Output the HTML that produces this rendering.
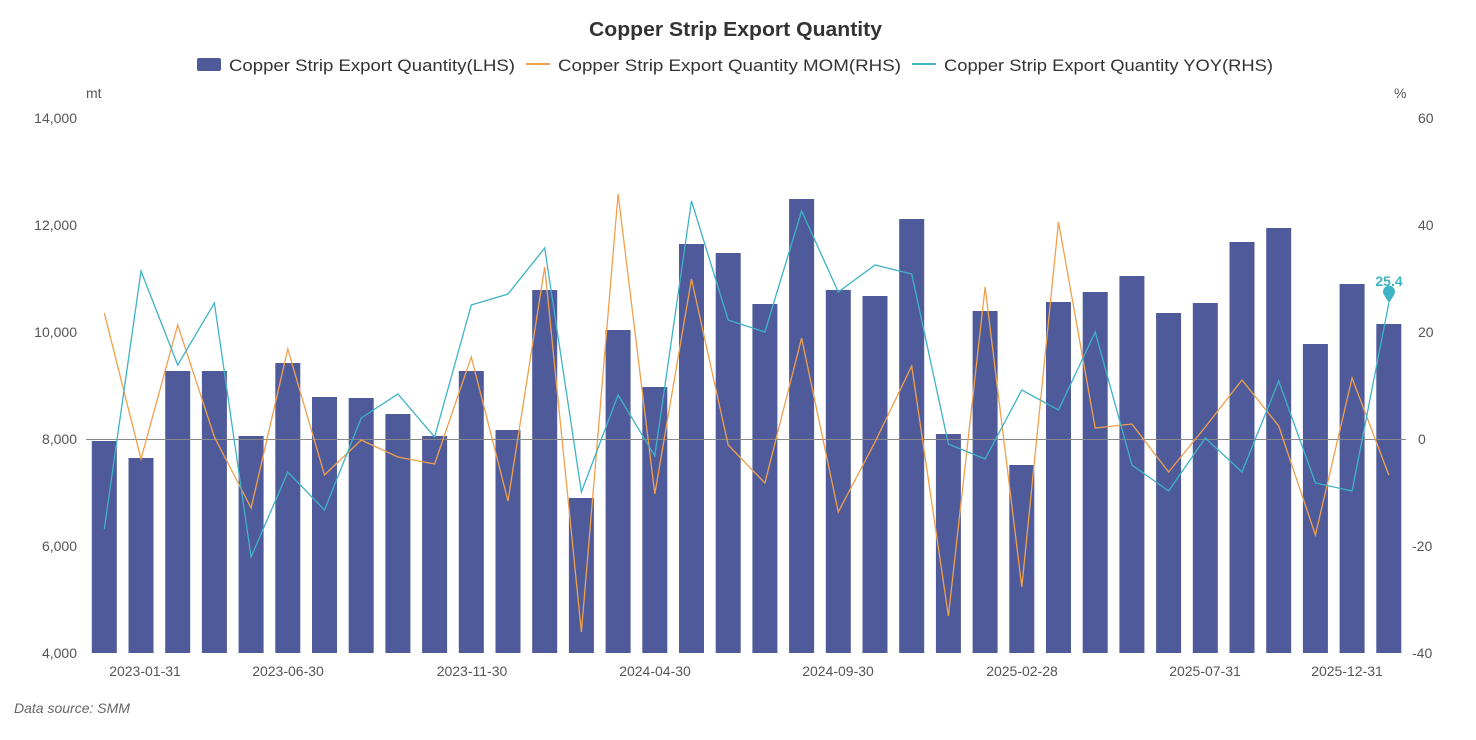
<!DOCTYPE html>
<html><head><meta charset="utf-8"><style>
html,body{margin:0;padding:0;background:#fff;}
svg{display:block;font-family:"Liberation Sans","Noto Sans CJK SC",sans-serif;}
</style></head><body>
<svg width="1476" height="740" viewBox="0 0 1476 740" xmlns="http://www.w3.org/2000/svg">
<rect width="1476" height="740" fill="#fff"/>
<text x="589" y="36" textLength="293" lengthAdjust="spacingAndGlyphs" font-size="20" font-weight="bold" fill="#333">Copper Strip Export Quantity</text>
<rect x="197" y="58" width="24" height="13" rx="2" fill="#4e5a9a"/>
<text x="229" y="71" textLength="286" lengthAdjust="spacingAndGlyphs" font-size="17" fill="#333">Copper Strip Export Quantity(LHS)</text>
<line x1="526" y1="64" x2="550" y2="64" stroke="#f0a04b" stroke-width="2"/>
<text x="558" y="71" textLength="343" lengthAdjust="spacingAndGlyphs" font-size="17" fill="#333">Copper Strip Export Quantity MOM(RHS)</text>
<line x1="912" y1="64" x2="936" y2="64" stroke="#3eb3c6" stroke-width="2"/>
<text x="944" y="71" textLength="329" lengthAdjust="spacingAndGlyphs" font-size="17" fill="#333">Copper Strip Export Quantity YOY(RHS)</text>
<g font-size="14" fill="#555">
<text x="86" y="98">mt</text>
<text x="1394" y="98">%</text>
<g text-anchor="end">
<text x="77" y="123">14,000</text><text x="77" y="230">12,000</text><text x="77" y="337">10,000</text>
<text x="77" y="444">8,000</text><text x="77" y="551">6,000</text><text x="77" y="658">4,000</text>
</g>
<g text-anchor="start">
<text x="1418" y="123">60</text><text x="1418" y="230">40</text><text x="1418" y="337">20</text>
<text x="1418" y="444">0</text><text x="1412" y="551">-20</text><text x="1412" y="658">-40</text>
</g>
<g text-anchor="middle">
<text x="145" y="676">2023-01-31</text><text x="288" y="676">2023-06-30</text><text x="472" y="676">2023-11-30</text>
<text x="655" y="676">2024-04-30</text><text x="838" y="676">2024-09-30</text><text x="1022" y="676">2025-02-28</text>
<text x="1205" y="676">2025-07-31</text><text x="1347" y="676">2025-12-31</text>
</g>
</g>
<g fill="#4e5a9a" id="bars"></g>
<line x1="86" y1="439.5" x2="1406" y2="439.5" stroke="#888" stroke-width="1"/>
<polyline id="mom" fill="none" stroke="#f0a04b" stroke-width="1.3"/>
<polyline id="yoy" fill="none" stroke="#3eb3c6" stroke-width="1.3"/>
<path d="M1389 303 l-5 -8 a6 6 0 1 1 10 0 z" fill="#3eb3c6"/>
<text x="1389" y="286" text-anchor="middle" font-size="14" font-weight="bold" fill="#3eb3c6">25.4</text>
<text x="14" y="713" font-size="14" font-style="italic" fill="#666">Data source:  SMM</text>
</svg>
<script>
var tops=[441,458,371,371,436,363,397,398,414,436,371,430,290,498,330,387,244,253,304,199,290,296,219,434,311,465,302,292,276,313,303,242,228,344,284,324];
var mom=[313,459,325,437,508,349,475,440,457,464,357,501,267,632,194,494,279,445,483,338,512,442,366,616,287,587,222,428,424,472,427,380,426,535,378,475];
var yoy=[529,271,365,303,557,472,510,418,394,437,305,294,248,492,395,456,201,320,332,211,292,265,274,444,459,390,410,332,465,491,438,472,381,483,491,303];
var ns="http://www.w3.org/2000/svg",g=document.getElementById("bars");
function cx(i){return 104.3+i*36.7;}
for(var i=0;i<36;i++){var r=document.createElementNS(ns,"rect");r.setAttribute("x",cx(i)-12.5);r.setAttribute("y",tops[i]);r.setAttribute("width",25);r.setAttribute("height",653-tops[i]);g.appendChild(r);}
document.getElementById("mom").setAttribute("points",mom.map(function(v,i){return cx(i)+","+v}).join(" "));
document.getElementById("yoy").setAttribute("points",yoy.map(function(v,i){return cx(i)+","+v}).join(" "));
</script>
</body></html>
